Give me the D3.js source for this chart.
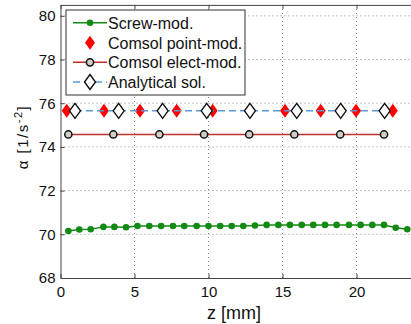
<!DOCTYPE html>
<html lang="en">
<head>
    <script src="https://d3js.org/d3.v7.min.js"></script>
</head>
<style>
    body { margin: 0; background: #fff; }
    text { font-family: "Liberation Sans", Arial, sans-serif; }
</style>
<body>
<script>
    const w = 411
    const h = 324

    // screw model, fine sampling
    const screwZ = [0.53, 1.27, 2.04, 2.9, 3.64, 4.43, 5.2, 6.0, 6.8, 7.6, 8.36, 9.2,
                    10.0, 10.79, 11.57, 12.35, 13.14, 13.93, 14.72, 15.5, 16.3, 17.08,
                    17.87, 18.66, 19.49, 20.28, 21.07, 21.86, 22.65, 23.43]
    const screwA = [70.15, 70.22, 70.23, 70.34, 70.34, 70.32, 70.38, 70.38, 70.38, 70.38, 70.38, 70.38,
                    70.38, 70.38, 70.38, 70.38, 70.40, 70.43, 70.43, 70.43, 70.43, 70.43,
                    70.43, 70.43, 70.43, 70.43, 70.43, 70.43, 70.30, 70.23]

    // comsol point model
    const pointZ = [0.42, 2.94, 5.37, 7.85, 10.28, 12.85, 15.17, 17.58, 19.97, 22.45]
    const pointA = [75.65, 75.65, 75.65, 75.65, 75.65, 75.65, 75.65, 75.65, 75.65, 75.65]

    // comsol electrode model
    const electZ = [0.53, 3.57, 6.68, 9.7, 12.75, 15.8, 18.9, 21.86]
    const electA = [74.57, 74.57, 74.57, 74.57, 74.57, 74.57, 74.57, 74.57]

    // analytical solution
    const analZ = [0.98, 3.93, 6.9, 9.88, 12.8, 15.96, 18.93, 21.9]
    const analA = [75.65, 75.65, 75.65, 75.65, 75.65, 75.65, 75.65, 75.65]

    const xTicks = [0, 5, 10, 15, 20]
    const yTicks = [68, 70, 72, 74, 76, 78, 80]
    const legendNames = ["Screw-mod.", "Comsol point-mod.", "Comsol elect-mod.", "Analytical sol."]

    const green = "#138a13"
    const red = "#ff0000"
    const darkRed = "#c0302a"
    const blue = "#5b9bd5"

    var svg = d3.select("body")
        .append("svg")
        .attr("width", w)
        .attr("height", h)

    let x = d3.scaleLinear().domain([0, 24]).range([60.5, 415.7])
    let y = d3.scaleLinear().domain([68, 80.5]).range([278, 4.9])

    // dotted grid
    svg.selectAll(".gx")
        .data(xTicks.slice(1))
        .enter().append("line")
        .attr("x1", d => x(d)).attr("x2", d => x(d))
        .attr("y1", y(68)).attr("y2", y(80.5))
        .attr("stroke", "#888").attr("stroke-dasharray", "1,3")
    svg.selectAll(".gy")
        .data(yTicks.slice(1))
        .enter().append("line")
        .attr("x1", x(0)).attr("x2", x(24))
        .attr("y1", d => y(d)).attr("y2", d => y(d))
        .attr("stroke", "#888").attr("stroke-dasharray", "1,3")

    // axes (ticks inside, matlab style)
    svg.append("g")
        .attr("transform", "translate(0," + y(68) + ")")
        .call(d3.axisBottom(x).tickValues(xTicks).tickSize(-4).tickPadding(8).tickSizeOuter(0))
        .call(g => g.selectAll("text").attr("font-size", 15).attr("fill", "#111"))
    svg.append("g")
        .attr("transform", "translate(0," + y(80.5) + ")")
        .call(d3.axisTop(x).tickValues(xTicks).tickSize(-4).tickFormat("").tickSizeOuter(0))
    svg.append("g")
        .attr("transform", "translate(" + x(0) + ",0)")
        .call(d3.axisLeft(y).tickValues(yTicks).tickSize(-4).tickPadding(5).tickSizeOuter(0))
        .call(g => g.selectAll("text").attr("font-size", 15).attr("fill", "#111"))
    svg.selectAll(".domain").attr("stroke", "#444")
    svg.selectAll(".tick line").attr("stroke", "#444")

    const screw = screwZ.map((z, i) => [z, screwA[i]])
    const point = pointZ.map((z, i) => [z, pointA[i]])
    const elect = electZ.map((z, i) => [z, electA[i]])
    const anal = analZ.map((z, i) => [z, analA[i]])

    const line = d3.line().x(d => x(d[0])).y(d => y(d[1]))
    const diamond = (a, b) => "M0," + (-b) + "L" + a + ",0L0," + b + "L" + (-a) + ",0Z"

    // screw model
    svg.append("path").datum(screw)
        .attr("d", line).attr("fill", "none").attr("stroke", green).attr("stroke-width", 1.5)
    svg.selectAll(".screw")
        .data(screw).enter().append("circle")
        .attr("cx", d => x(d[0])).attr("cy", d => y(d[1]))
        .attr("r", 3.3).attr("fill", green)

    // comsol point
    svg.selectAll(".point")
        .data(point).enter().append("path")
        .attr("transform", d => "translate(" + x(d[0]) + "," + y(d[1]) + ")")
        .attr("d", diamond(5, 7)).attr("fill", red)

    // comsol electrode
    svg.append("path").datum(elect)
        .attr("d", line).attr("fill", "none").attr("stroke", darkRed).attr("stroke-width", 1.5)
    svg.selectAll(".elect")
        .data(elect).enter().append("circle")
        .attr("cx", d => x(d[0])).attr("cy", d => y(d[1]))
        .attr("r", 3.6).attr("fill", "#cfcfc8").attr("stroke", "#111").attr("stroke-width", 1.5)

    // analytical
    svg.append("path").datum(anal)
        .attr("d", line).attr("fill", "none").attr("stroke", blue).attr("stroke-width", 1.5)
        .attr("stroke-dasharray", "7,4")
    svg.selectAll(".anal")
        .data(anal).enter().append("path")
        .attr("transform", d => "translate(" + x(d[0]) + "," + y(d[1]) + ")")
        .attr("d", diamond(5.5, 7.5)).attr("fill", "#fff").attr("stroke", "#111").attr("stroke-width", 1.4)

    // legend
    const lg = svg.append("g")
    lg.append("rect").attr("x", 66).attr("y", 10).attr("width", 179).attr("height", 85)
        .attr("fill", "#fff").attr("stroke", "#333")
    const rows = [22.7, 42.7, 62.3, 82]
    lg.append("line").attr("x1", 73).attr("x2", 107).attr("y1", rows[0]).attr("y2", rows[0])
        .attr("stroke", green).attr("stroke-width", 1.5)
    lg.append("circle").attr("cx", 90).attr("cy", rows[0]).attr("r", 3.3).attr("fill", green)
    lg.append("path").attr("transform", "translate(90," + rows[1] + ")")
        .attr("d", diamond(5, 7)).attr("fill", red)
    lg.append("line").attr("x1", 73).attr("x2", 107).attr("y1", rows[2]).attr("y2", rows[2])
        .attr("stroke", darkRed).attr("stroke-width", 1.5)
    lg.append("circle").attr("cx", 90).attr("cy", rows[2]).attr("r", 3.6)
        .attr("fill", "#cfcfc8").attr("stroke", "#111").attr("stroke-width", 1.5)
    lg.append("line").attr("x1", 73).attr("x2", 107).attr("y1", rows[3]).attr("y2", rows[3])
        .attr("stroke", blue).attr("stroke-width", 1.5).attr("stroke-dasharray", "7,4")
    lg.append("path").attr("transform", "translate(90," + rows[3] + ")")
        .attr("d", diamond(5.5, 7.5)).attr("fill", "#fff").attr("stroke", "#111").attr("stroke-width", 1.4)
    lg.selectAll(".lt")
        .data(legendNames).enter().append("text")
        .attr("x", 108).attr("y", (d, i) => rows[i] + 6)
        .attr("font-size", 16).attr("fill", "#111")
        .text(d => d)

    // axis labels
    svg.append("text")
        .attr("x", 234).attr("y", 319)
        .attr("text-anchor", "middle").attr("font-size", 18).attr("fill", "#111")
        .text("z [mm]")
    const yl = svg.append("text")
        .attr("transform", "translate(28,137) rotate(-90)")
        .attr("text-anchor", "middle").attr("font-size", 15).attr("fill", "#111")
        .attr("letter-spacing", 1.5)
    yl.append("tspan").text("α [1/s")
    yl.append("tspan").attr("dy", -6).attr("font-size", 11).text("-2")
    yl.append("tspan").attr("dy", 6).text("]")
</script>
</body>
</html>
